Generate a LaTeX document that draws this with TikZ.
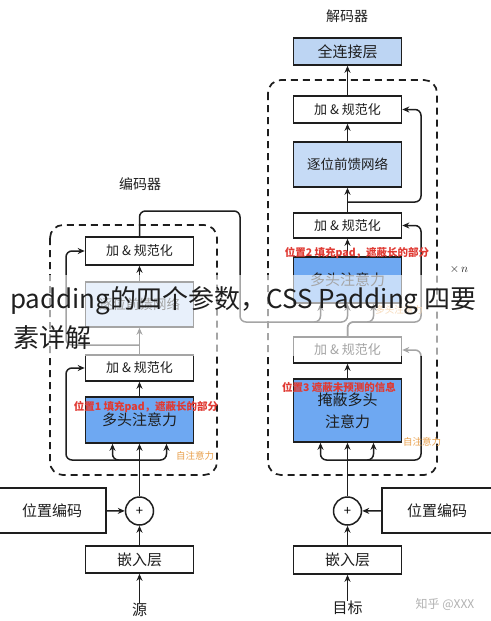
\documentclass[tikz,border=0pt]{standalone}
\usepackage{fontspec}
\setmainfont{Noto Sans CJK SC}
\usetikzlibrary{arrows.meta}
\definecolor{mhablue}{HTML}{6EA8F2}
\definecolor{ffnblue}{HTML}{C6DBF6}
\definecolor{fcblue}{HTML}{BDD5F3}
\definecolor{redlab}{HTML}{E03A33}
\definecolor{oralab}{HTML}{E9A04C}
\definecolor{ink}{HTML}{1E1E1E}
\tikzset{
  box/.style={draw=ink, line width=1.6pt, minimum width=108pt, inner sep=0pt,
    text=ink, font=\fontsize{13}{15}\selectfont},
  addbox/.style={box, fill=white},
  ffnbox/.style={box, fill=ffnblue, font=\fontsize{13.5}{16}\selectfont},
  mhabox/.style={box, fill=mhablue, font=\fontsize{15}{22}\selectfont, align=center},
  plainbox/.style={box, fill=white, font=\fontsize{15}{18}\selectfont},
  sumnode/.style={circle, draw=ink, line width=1.5pt, minimum size=28pt, inner sep=0pt,
    fill=white, font=\fontsize{13}{13}\selectfont},
  arr/.style={draw=ink, line width=1.5pt, -{Stealth[length=7pt,width=6pt]}},
  ln/.style={draw=ink, line width=1.5pt},
  dashbox/.style={draw=ink, line width=1.7pt, dash pattern=on 7pt off 5pt, rounded corners=13pt},
  redtext/.style={text=redlab, font=\fontsize{10.5}{12}\selectfont\bfseries, inner sep=0pt},
  oratext/.style={text=oralab, font=\fontsize{9.5}{11}\selectfont, inner sep=0pt},
  title/.style={text=ink, font=\fontsize{14}{16}\selectfont, inner sep=0pt},
  io/.style={text=ink, font=\fontsize{15}{18}\selectfont, inner sep=0pt},
  overlay/.style={anchor=west, inner sep=0pt, text=black!88, font=\fontsize{26}{30}\selectfont}
}
\begin{document}
\begin{tikzpicture}[x=1pt,y=-1pt]
\useasboundingbox (0,0) rectangle (490,621);
\fill[white] (0,0) rectangle (490,621);

% ---------------- Encoder ----------------
\node[title] (etitle) at (140,184) {编码器};
\draw[dashbox] (50,225) rectangle (217,475);
\node[addbox, minimum height=28pt] (eadd2) at (139.5,251) {加 \& 规范化};
\node[ffnbox, minimum height=45pt] (effn) at (139.5,304.5) {逐位前馈网络};
\node[addbox, minimum height=26pt] (eadd1) at (139.5,368) {加 \& 规范化};
\node[mhabox, minimum height=46pt] (emha) at (139.5,420) {多头注意力};
\node[sumnode] (ecirc) at (139.5,511) {+};
\node[plainbox, minimum width=108pt, minimum height=45pt] (epos) at (52,510.5) {位置编码};
\node[plainbox, minimum height=27pt] (eemb) at (139.5,559.5) {嵌入层};
\node[io] (esrc) at (139.5,610) {源};

\coordinate (ej) at (139.5,460);
\coordinate (ej2) at (139.5,345);
\draw[arr] (ecirc) -- (emha);
\draw[arr, rounded corners=6pt] (ej) -| ([xshift=-27pt]emha.south);
\draw[arr, rounded corners=6pt] (ej) -| ([xshift=27pt]emha.south);
\draw[arr, rounded corners=6pt] (ej) -| (66,368) -- (eadd1.west);
\draw[arr] (emha) -- (eadd1);
\draw[arr] (eadd1) -- (effn);
\draw[arr, rounded corners=6pt] (ej2) -| (66,251) -- (eadd2.west);
\draw[arr] (effn) -- (eadd2);
\draw[arr] (epos) -- (ecirc);
\draw[arr] (eemb) -- (ecirc);
\draw[arr] (esrc) -- (eemb);

\node[redtext] (elab1) at (146,407) {位置1 填充pad，遮蔽长的部分};
\node[oratext] (elab2) at (195,456) {自注意力};

% ---------------- Decoder ----------------
\node[title] (dtitle) at (347,16) {解码器};
\node[box, fill=fcblue, minimum height=27pt, font=\fontsize{15}{18}\selectfont] (dfc) at (347.5,51.5) {全连接层};
\draw[dashbox] (268,80) rectangle (437,475);
\node[addbox, minimum height=27pt] (dadd3) at (347.5,109.5) {加 \& 规范化};
\node[ffnbox, minimum height=45pt] (dffn) at (347.5,164.5) {逐位前馈网络};
\node[addbox, minimum height=25pt] (dadd2) at (347.5,225.5) {加 \& 规范化};
\node[mhabox, minimum height=46pt] (dmha) at (347.5,280) {多头注意力};
\node[addbox, minimum height=26pt] (dadd1) at (347.5,350) {加 \& 规范化};
\node[mhabox, minimum height=63pt] (dmmha) at (347.5,410.5) {掩蔽多头\\注意力};
\node[sumnode] (dcirc) at (347.5,511) {+};
\node[plainbox, minimum width=110pt, minimum height=45pt] (dpos) at (437,510.5) {位置编码};
\node[plainbox, minimum height=28pt] (demb) at (347.5,560) {嵌入层};
\node[io] (dtgt) at (347.5,608) {目标};

\coordinate (dj) at (347.5,460);
\coordinate (dj2) at (347.5,202);
\draw[arr] (dcirc) -- (dmmha);
\draw[arr, rounded corners=6pt] (dj) -| ([xshift=-27pt]dmmha.south);
\draw[arr, rounded corners=6pt] (dj) -| ([xshift=26pt]dmmha.south);
\draw[arr, rounded corners=6pt] (dj) -| (421,350) -- (dadd1.east);
\draw[arr] (dmmha) -- (dadd1);
% decoder self path into cross attention (query) and residual
\draw[arr, rounded corners=6pt] (dadd1.north) |- (360,322) -| ([xshift=26pt]dmha.south);
\draw[arr, rounded corners=6pt] (dadd1.north) |- (400,322) -| (421,225.5) -- (dadd2.east);
% encoder output into decoder
\draw[arr, rounded corners=6pt] (eadd2.north) |- (240,211) |- (300,322) -| ([xshift=-27pt]dmha.south);
\draw[arr, rounded corners=6pt] (300,322) -| (dmha.south);
\draw[arr] (dmha) -- (dadd2);
\draw[arr] (dadd2) -- (dffn);
\draw[arr, rounded corners=6pt] (dj2) -| (421,109.5) -- (dadd3.east);
\draw[arr] (dffn) -- (dadd3);
\draw[arr] (dadd3) -- (dfc);
\draw[arr] (dpos) -- (dcirc);
\draw[arr] (demb) -- (dcirc);
\draw[arr] (dtgt) -- (demb);

\node[redtext] (dlab2) at (357,253) {位置2 填充pad，遮蔽长的部分};
\node[oratext] (dlab4) at (399,310) {多头注意力};
\node[redtext] (dlab3) at (339,387) {位置3 遮蔽未预测的信息};
\node[oratext] (dlab5) at (422,442) {自注意力};

\node[text=ink, font=\fontsize{13}{15}\selectfont, inner sep=0pt] (times) at (459,269) {$\times\,n$};
\node[text=black!30, font=\fontsize{12}{14}\selectfont, inner sep=0pt] (wm) at (445,604) {知乎 @XXX};

% ---------------- overlay banner ----------------
\fill[white, opacity=0.6] (0,275) rectangle (490,356);
\node[overlay] (ov1) at (10,301) {padding的四个参数，CSS Padding 四要};
\node[overlay] (ov2) at (13,338) {素详解};
\end{tikzpicture}
\end{document}
